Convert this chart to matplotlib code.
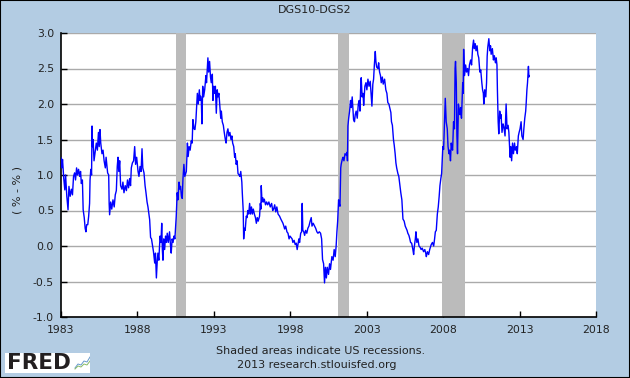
import matplotlib
matplotlib.use("Agg")
import matplotlib.pyplot as plt
from matplotlib.patches import Rectangle

# DGS10 - DGS2 spread (percentage points)
years = [
    1983.00, 1983.05, 1983.10, 1983.18, 1983.25, 1983.30, 1983.38, 1983.46, 1983.52, 1983.60,
    1983.68, 1983.75, 1983.82, 1983.89, 1983.95, 1984.02, 1984.08, 1984.15, 1984.22, 1984.28,
    1984.33, 1984.40, 1984.45, 1984.52, 1984.58, 1984.63, 1984.68, 1984.75, 1984.81, 1984.87,
    1984.90, 1984.95, 1985.00, 1985.03, 1985.06, 1985.10, 1985.16, 1985.22, 1985.31, 1985.38,
    1985.45, 1985.50, 1985.55, 1985.60, 1985.68, 1985.75, 1985.82, 1985.90, 1985.95, 1986.05,
    1986.12, 1986.15, 1986.18, 1986.25, 1986.32, 1986.40, 1986.48, 1986.55, 1986.62, 1986.68,
    1986.73, 1986.78, 1986.84, 1986.90, 1986.99, 1987.05, 1987.12, 1987.20, 1987.28, 1987.35,
    1987.42, 1987.49, 1987.55, 1987.60, 1987.67, 1987.75, 1987.82, 1987.88, 1987.95, 1988.04,
    1988.10, 1988.17, 1988.24, 1988.30, 1988.35, 1988.43, 1988.50, 1988.56, 1988.63, 1988.69,
    1988.75, 1988.80, 1988.86, 1988.92, 1988.99, 1989.05, 1989.13, 1989.18, 1989.24, 1989.30,
    1989.34, 1989.40, 1989.48, 1989.54, 1989.59, 1989.63, 1989.67, 1989.72, 1989.78, 1989.84,
    1989.90, 1989.95, 1990.02, 1990.10, 1990.16, 1990.21, 1990.27, 1990.33, 1990.39, 1990.45,
    1990.54, 1990.60, 1990.65, 1990.72, 1990.78, 1990.82, 1990.88, 1990.93, 1990.98, 1991.04,
    1991.10, 1991.20, 1991.27, 1991.32, 1991.38, 1991.45, 1991.52, 1991.58, 1991.63, 1991.70,
    1991.76, 1991.82, 1991.85, 1991.92, 1991.98, 1992.05, 1992.10, 1992.13, 1992.18, 1992.22,
    1992.27, 1992.33, 1992.40, 1992.48, 1992.52, 1992.58, 1992.61, 1992.66, 1992.72, 1992.78,
    1992.83, 1992.90, 1992.94, 1993.00, 1993.05, 1993.10, 1993.16, 1993.22, 1993.27, 1993.33,
    1993.40, 1993.45, 1993.49, 1993.55, 1993.62, 1993.68, 1993.75, 1993.80, 1993.86, 1993.92,
    1993.98, 1994.05, 1994.12, 1994.18, 1994.23, 1994.30, 1994.36, 1994.40, 1994.46, 1994.52,
    1994.58, 1994.65, 1994.70, 1994.76, 1994.83, 1994.86, 1994.92, 1994.95, 1995.00, 1995.05,
    1995.12, 1995.17, 1995.22, 1995.28, 1995.34, 1995.40, 1995.46, 1995.52, 1995.58, 1995.65,
    1995.72, 1995.78, 1995.84, 1995.90, 1995.99, 1996.04, 1996.08, 1996.10, 1996.15, 1996.20,
    1996.25, 1996.30, 1996.38, 1996.45, 1996.52, 1996.60, 1996.69, 1996.78, 1996.85, 1996.91,
    1996.98, 1997.05, 1997.12, 1997.20, 1997.30, 1997.38, 1997.45, 1997.52, 1997.58, 1997.63,
    1997.70, 1997.78, 1997.85, 1997.92, 1997.98, 1998.05, 1998.12, 1998.17, 1998.25, 1998.32,
    1998.39, 1998.45, 1998.50, 1998.56, 1998.61, 1998.68, 1998.74, 1998.78, 1998.82, 1998.88,
    1998.94, 1999.00, 1999.08, 1999.15, 1999.22, 1999.30, 1999.37, 1999.42, 1999.50, 1999.59,
    1999.66, 1999.74, 1999.81, 1999.90, 1999.98, 2000.05, 2000.11, 2000.18, 2000.24, 2000.30,
    2000.36, 2000.42, 2000.50, 2000.57, 2000.63, 2000.72, 2000.80, 2000.87, 2000.94, 2001.00,
    2001.05, 2001.10, 2001.16, 2001.20, 2001.25, 2001.30, 2001.33, 2001.40, 2001.45, 2001.51,
    2001.58, 2001.66, 2001.71, 2001.74, 2001.77, 2001.82, 2001.88, 2001.94, 2001.99, 2002.05,
    2002.10, 2002.14, 2002.20, 2002.25, 2002.31, 2002.38, 2002.45, 2002.51, 2002.56, 2002.60,
    2002.64, 2002.70, 2002.76, 2002.80, 2002.88, 2002.95, 2003.01, 2003.08, 2003.15, 2003.23,
    2003.30, 2003.34, 2003.40, 2003.45, 2003.50, 2003.56, 2003.60, 2003.65, 2003.73, 2003.78,
    2003.84, 2003.90, 2003.95, 2004.02, 2004.08, 2004.17, 2004.25, 2004.32, 2004.38, 2004.45,
    2004.54, 2004.58, 2004.62, 2004.68, 2004.75, 2004.80, 2004.86, 2004.91, 2004.96, 2005.04,
    2005.10, 2005.17, 2005.23, 2005.30, 2005.37, 2005.45, 2005.52, 2005.58, 2005.64, 2005.69,
    2005.76, 2005.82, 2005.87, 2005.94, 2006.02, 2006.07, 2006.12, 2006.18, 2006.22, 2006.28,
    2006.35, 2006.42, 2006.50, 2006.56, 2006.63, 2006.72, 2006.80, 2006.86, 2006.90, 2006.97,
    2007.05, 2007.12, 2007.22, 2007.30, 2007.38, 2007.44, 2007.49, 2007.55, 2007.62, 2007.68,
    2007.74, 2007.79, 2007.85, 2007.90, 2007.98, 2008.03, 2008.10, 2008.14, 2008.20, 2008.27,
    2008.32, 2008.38, 2008.42, 2008.48, 2008.53, 2008.57, 2008.62, 2008.68, 2008.74, 2008.78,
    2008.81, 2008.86, 2008.90, 2008.94, 2009.00, 2009.05, 2009.10, 2009.14, 2009.20, 2009.28,
    2009.31, 2009.34, 2009.40, 2009.47, 2009.53, 2009.60, 2009.66, 2009.72, 2009.80, 2009.86,
    2009.93, 2009.99, 2010.04, 2010.10, 2010.15, 2010.22, 2010.27, 2010.33, 2010.40, 2010.46,
    2010.53, 2010.58, 2010.63, 2010.66, 2010.72, 2010.79, 2010.84, 2010.88, 2010.92, 2010.99,
    2011.05, 2011.10, 2011.14, 2011.22, 2011.29, 2011.35, 2011.42, 2011.47, 2011.52, 2011.55,
    2011.60, 2011.64, 2011.70, 2011.76, 2011.79, 2011.85, 2011.92, 2011.97, 2012.05, 2012.12,
    2012.18, 2012.25, 2012.30, 2012.38, 2012.42, 2012.48, 2012.54, 2012.60, 2012.67, 2012.72,
    2012.80, 2012.85, 2012.92, 2012.97, 2013.03, 2013.10, 2013.15, 2013.23, 2013.28, 2013.34,
    2013.40, 2013.43, 2013.48, 2013.52, 2013.56, 2013.58, 2013.61, 2013.63,
]
spread = [
    1.24, 1.10, 1.22, 0.95, 0.79, 1.00, 0.70, 0.51, 0.84, 0.70,
    0.80, 0.72, 0.98, 1.03, 0.93, 1.10, 1.00, 1.08, 0.98, 1.05,
    0.88, 0.93, 0.51, 0.40, 0.25, 0.20, 0.30, 0.30, 0.42, 0.60,
    0.93, 1.08, 1.00, 1.69, 1.40, 1.50, 1.20, 1.30, 1.45, 1.35,
    1.60, 1.40, 1.64, 1.45, 1.30, 1.35, 1.20, 1.10, 1.25, 1.03,
    1.00, 0.60, 0.44, 0.62, 0.52, 0.65, 0.55, 0.72, 0.78, 1.12,
    1.25, 1.05, 1.20, 0.85, 0.80, 0.90, 0.75, 0.85, 0.78, 0.93,
    0.82, 0.95, 0.85, 1.10, 1.17, 1.20, 1.40, 1.15, 1.25, 1.05,
    0.98, 1.12, 1.05, 1.37, 1.10, 1.03, 0.85, 0.75, 0.62, 0.55,
    0.45, 0.37, 0.12, 0.10, 0.00, -0.08, -0.24, -0.10, -0.45, -0.20,
    -0.10, -0.20, 0.14, 0.05, 0.32, -0.05, -0.20, 0.10, -0.05, 0.14,
    0.05, 0.18, 0.05, 0.20, 0.02, -0.10, 0.10, 0.05, 0.14, 0.10,
    0.42, 0.75, 0.65, 0.90, 0.80, 0.84, 0.70, 0.67, 0.95, 1.15,
    0.98, 1.05, 1.45, 1.26, 1.40, 1.35, 1.48, 1.45, 1.78, 1.65,
    1.64, 1.75, 1.87, 2.15, 2.00, 2.20, 2.05, 2.11, 2.05, 1.72,
    2.25, 2.10, 2.20, 2.40, 2.30, 2.55, 2.65, 2.45, 2.60, 2.38,
    2.30, 2.42, 2.05, 2.25, 2.15, 2.25, 1.87, 2.20, 2.10, 2.15,
    1.95, 1.80, 1.90, 1.75, 1.70, 1.60, 1.50, 1.45, 1.60, 1.65,
    1.55, 1.60, 1.50, 1.55, 1.45, 1.40, 1.25, 1.30, 1.15, 1.20,
    1.02, 1.00, 0.98, 1.05, 0.90, 0.75, 0.50, 0.10, 0.25, 0.22,
    0.42, 0.40, 0.50, 0.45, 0.60, 0.45, 0.55, 0.45, 0.52, 0.45,
    0.40, 0.32, 0.40, 0.35, 0.42, 0.60, 0.52, 0.85, 0.62, 0.68,
    0.62, 0.66, 0.58, 0.62, 0.58, 0.62, 0.55, 0.60, 0.50, 0.52,
    0.58, 0.48, 0.55, 0.45, 0.42, 0.38, 0.35, 0.32, 0.28, 0.24,
    0.28, 0.20, 0.18, 0.10, 0.14, 0.12, 0.10, 0.05, 0.08, 0.02,
    0.04, -0.05, 0.02, 0.10, 0.05, 0.18, 0.20, 0.60, 0.22, 0.20,
    0.15, 0.22, 0.18, 0.25, 0.28, 0.35, 0.40, 0.28, 0.32, 0.28,
    0.25, 0.20, 0.18, 0.20, 0.18, 0.10, -0.19, -0.25, -0.52, -0.30,
    -0.45, -0.30, -0.40, -0.25, -0.33, -0.15, -0.20, -0.05, -0.15, 0.00,
    0.20, 0.35, 0.65, 0.60, 0.56, 1.10, 1.15, 1.22, 1.25, 1.20,
    1.30, 1.28, 1.32, 1.20, 1.69, 1.80, 1.90, 2.05, 1.95, 2.10,
    1.92, 1.78, 1.75, 1.85, 1.90, 1.80, 2.00, 2.05, 1.90, 2.20,
    2.37, 2.10, 2.15, 1.98, 2.25, 2.30, 2.20, 2.35, 2.25, 2.32,
    2.10, 1.97, 2.28, 2.35, 2.55, 2.74, 2.60, 2.52, 2.50, 2.58,
    2.45, 2.40, 2.30, 2.38, 2.28, 2.35, 2.20, 2.15, 2.02, 2.00,
    1.92, 1.88, 1.75, 1.70, 1.50, 1.42, 1.30, 1.17, 1.10, 1.02,
    0.98, 0.85, 0.75, 0.65, 0.38, 0.35, 0.28, 0.25, 0.22, 0.18,
    0.15, 0.10, 0.05, 0.04, -0.05, -0.12, 0.00, 0.10, 0.20, 0.05,
    0.10, 0.00, -0.02, -0.05, -0.03, -0.08, -0.05, -0.10, -0.15, -0.08,
    -0.12, -0.05, 0.02, 0.05, 0.00, 0.10, 0.20, 0.22, 0.45, 0.55,
    0.70, 0.85, 0.95, 1.02, 1.40, 1.36, 1.85, 2.08, 1.75, 1.65,
    1.40, 1.30, 1.35, 1.20, 1.45, 1.38, 1.35, 1.75, 1.65, 2.50,
    2.60, 2.30, 1.55, 1.30, 2.00, 1.90, 1.85, 1.95, 1.80, 2.30,
    2.15, 2.77, 2.40, 2.55, 2.45, 2.50, 2.40, 2.55, 2.62, 2.55,
    2.80, 2.90, 2.78, 2.85, 2.75, 2.82, 2.70, 2.65, 2.45, 2.48,
    2.30, 2.20, 2.15, 2.00, 2.20, 2.10, 2.30, 2.67, 2.80, 2.92,
    2.75, 2.82, 2.70, 2.78, 2.62, 2.68, 2.58, 2.65, 2.55, 2.20,
    1.75, 1.58, 1.90, 1.80, 1.85, 1.60, 1.72, 1.68, 1.55, 2.00,
    1.65, 1.70, 1.60, 1.25, 1.40, 1.20, 1.45, 1.30, 1.45, 1.35,
    1.40, 1.30, 1.55, 1.60, 1.65, 1.75, 1.55, 1.50, 1.65, 1.80,
    1.90, 2.00, 2.20, 2.30, 2.45, 2.53, 2.38, 2.40,
]

# US recessions (start, end), fractional years
recessions = [(1990.55, 1991.20), (2001.15, 2001.85), (2007.90, 2009.45)]

x_ticks = [1983, 1988, 1993, 1998, 2003, 2008, 2013, 2018]
y_ticks = [-1.0, -0.5, 0.0, 0.5, 1.0, 1.5, 2.0, 2.5, 3.0]

bg = "#B3CCE3"
txt = "#222222"
W, H = 630, 378

fig = plt.figure(figsize=(W / 100, H / 100), dpi=100, facecolor=bg)
ax = fig.add_axes([61 / W, 61 / H, 535 / W, 284 / H])
ax.set_facecolor("white")

for start, end in recessions:
    ax.axvspan(start, end, color="#BBBBBB", lw=0, zorder=1)

ax.plot(years, spread, color="#0000FF", lw=1.0, zorder=3)

ax.set_xlim(1983, 2018)
ax.set_ylim(-1.0, 3.0)
ax.set_xticks(x_ticks)
ax.set_yticks(y_ticks)
ax.set_yticklabels([f"{v:.1f}" for v in y_ticks])
ax.yaxis.grid(True, color="#AAAAAA", lw=1, zorder=0)
ax.set_axisbelow(True)

for side in ["top", "right"]:
    ax.spines[side].set_visible(False)
for side in ["left", "bottom"]:
    ax.spines[side].set_color("black")
    ax.spines[side].set_linewidth(1.2)

ax.tick_params(axis="both", direction="in", length=4, width=1, color="black",
               labelsize=7.8, labelcolor=txt)
ax.tick_params(axis="y", pad=5)
ax.tick_params(axis="x", pad=6)

fig.text(315 / W, 1 - 10 / H, "DGS10-DGS2", ha="center", va="center",
         fontsize=8, color=txt)
fig.text(18 / W, 1 - 190 / H, "( % - % )", rotation=90, ha="center", va="center",
         fontsize=8, color=txt)
fig.text(321 / W, 1 - 351 / H, "Shaded areas indicate US recessions.",
         ha="center", va="center", fontsize=8, color=txt)
fig.text(317 / W, 1 - 365 / H, "2013 research.stlouisfed.org",
         ha="center", va="center", fontsize=8, color=txt)

# FRED logo box
logo = fig.add_axes([5 / W, 5 / H, 85 / W, 20 / H])
logo.set_facecolor("white")
logo.set_xlim(0, 85)
logo.set_ylim(0, 20)
logo.set_xticks([])
logo.set_yticks([])
for s in logo.spines.values():
    s.set_visible(False)
logo.text(2, 10, "FRED", ha="left", va="center", fontsize=15.5,
          fontweight="bold", color="#231F20")
icon_x = [70, 73, 76, 79, 82, 85]
icon_blue = [5, 9, 8, 12, 11, 16]
icon_green = [4, 7, 6, 9, 8, 12]
logo.plot(icon_x, icon_blue, color="#6699CC", lw=0.7)
logo.plot(icon_x, icon_green, color="#88BB66", lw=0.7)

fig.patches.append(Rectangle((0, 0), 1, 1, transform=fig.transFigure,
                             fill=False, ec="black", lw=1.5))

fig.savefig("out.png", dpi=100, facecolor=bg)
